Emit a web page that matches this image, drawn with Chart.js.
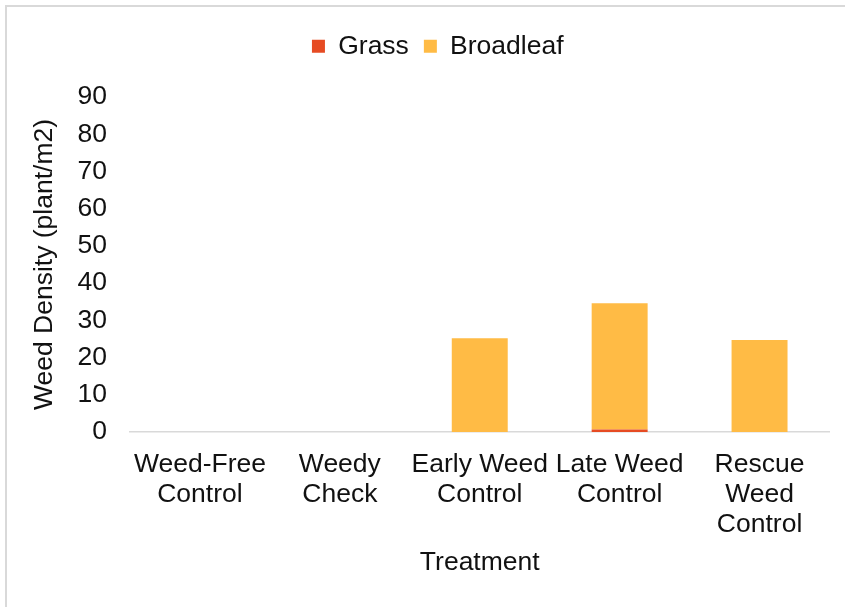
<!DOCTYPE html>
<html>
<head>
<meta charset="utf-8">
<title>Weed Density by Treatment</title>
<script src="https://cdn.jsdelivr.net/npm/chart.js@4"></script>
<style>
  html, body { margin: 0; padding: 0; background: #ffffff; }
  #wrap { position: relative; width: 845px; height: 607px; overflow: hidden; }
  #frame {
    position: absolute; left: 5px; top: 5px; width: 900px; height: 700px;
    border-top: 2px solid #d9d9d9; border-left: 2px solid #d9d9d9;
    box-sizing: border-box; pointer-events: none;
  }
  canvas { position: absolute; left: 0; top: 0; }
</style>
</head>
<body>
<div id="wrap">
  <div id="frame"></div>
  <canvas id="chart" width="845" height="607"></canvas>
</div>
<script>
// Treatments and weed density (plants per m2) by weed type
const categories = [
  ["Weed-Free", "Control"],
  ["Weedy", "Check"],
  ["Early Weed", "Control"],
  ["Late Weed", "Control"],
  ["Rescue", "Weed", "Control"]
];
const grass = [0, 0, 0, 0.7, 0];
const broadleaf = [0, 0, 25.2, 33.9, 24.7];
const yTicks = [0, 10, 20, 30, 40, 50, 60, 70, 80, 90];

const FONT = { family: "'Liberation Sans', Arial, sans-serif", size: 26.5, lineHeight: 1.13 };
const TEXT = '#111111';

// nudges the legend row so it sits centred over the whole frame, near the top
const legendShift = {
  id: 'legendShift',
  afterLayout(chart) {
    const lg = chart.legend;
    if (!lg) return;
    lg.left += 23; lg.right += 23;
    lg.top -= 27.5; lg.bottom -= 27.5;
  }
};

new Chart(document.getElementById('chart'), {
  type: 'bar',
  data: {
    labels: categories,
    datasets: [
      { label: 'Grass', data: grass, backgroundColor: '#E64B23', borderWidth: 0 },
      { label: 'Broadleaf', data: broadleaf, backgroundColor: '#FFBB45', borderWidth: 0 }
    ]
  },
  options: {
    responsive: false,
    animation: false,
    devicePixelRatio: 1,
    layout: { padding: { left: 0, right: 15.5, top: 45.5, bottom: 0 } },
    datasets: { bar: { barPercentage: 0.4, categoryPercentage: 1.0 } },
    plugins: {
      legend: {
        position: 'top',
        align: 'center',
        labels: {
          font: FONT, color: TEXT,
          boxWidth: 13, boxHeight: 13, padding: 15
        }
      },
      tooltip: { enabled: false }
    },
    scales: {
      x: {
        stacked: true,
        grid: { display: false, drawTicks: false },
        border: { display: true, color: '#d9d9d9', width: 1.5 },
        ticks: {
          font: FONT, color: TEXT, padding: 18,
          maxRotation: 0, minRotation: 0, autoSkip: false
        },
        title: {
          display: true, text: 'Treatment',
          font: FONT, color: TEXT, padding: { top: 0, bottom: 29 }
        },
        afterFit(scale) { scale.height = 175; }
      },
      y: {
        stacked: true,
        min: 0, max: 90,
        grid: { display: false, drawTicks: false },
        border: { display: false },
        afterBuildTicks(scale) { scale.ticks = yTicks.map(v => ({ value: v })); },
        ticks: { font: FONT, color: TEXT, padding: 23 },
        title: {
          display: true, text: 'Weed Density (plant/m2)',
          font: FONT, color: TEXT, padding: { top: 30, bottom: 0 }
        },
        afterFit(scale) { scale.width = 130; }
      }
    }
  },
  plugins: [legendShift]
});
</script>
</body>
</html>
